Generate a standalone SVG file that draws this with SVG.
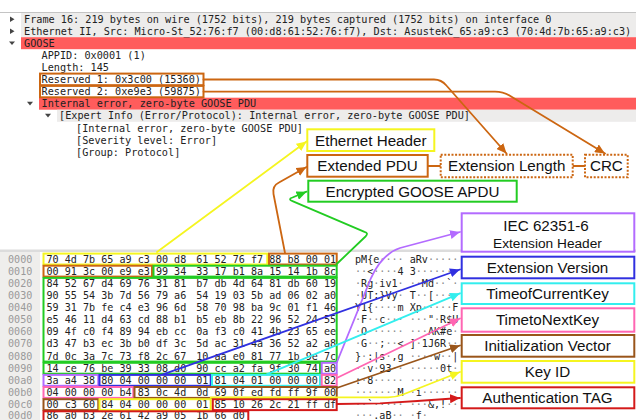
<svg xmlns="http://www.w3.org/2000/svg" width="636" height="420" viewBox="0 0 636 420">
<defs>
<style>
.mono{font-family:"DejaVu Sans Mono","Liberation Mono",monospace;font-size:10.2px;fill:#222}
.hx{font-family:"DejaVu Sans Mono","Liberation Mono",monospace;font-size:10.1px;fill:#222;white-space:pre}
.off{fill:#9a9a9a}
.d{fill:#8a8a8a}
.lbl{font-family:"Liberation Sans",Arial,sans-serif;font-size:15.2px;fill:#111;text-anchor:middle}
.box{fill:#fff;stroke-width:2}
.hb{fill:none;stroke-width:2}
.con{fill:none;stroke-width:1.8;stroke-linejoin:round;stroke-linecap:round}
.tri{fill:#444}
</style>
<marker id="aY" markerUnits="userSpaceOnUse" markerWidth="11" markerHeight="9" refX="10" refY="4.5" orient="auto"><path d="M0,0 L10,4.5 L0,9 z" fill="#f5f520"/></marker>
<marker id="aO" markerUnits="userSpaceOnUse" markerWidth="11" markerHeight="9" refX="10" refY="4.5" orient="auto"><path d="M0,0 L10,4.5 L0,9 z" fill="#cc6611"/></marker>
<marker id="aG" markerUnits="userSpaceOnUse" markerWidth="11" markerHeight="9" refX="10" refY="4.5" orient="auto"><path d="M0,0 L10,4.5 L0,9 z" fill="#22cc22"/></marker>
<marker id="aP" markerUnits="userSpaceOnUse" markerWidth="11" markerHeight="9" refX="10" refY="4.5" orient="auto"><path d="M0,0 L10,4.5 L0,9 z" fill="#b36bff"/></marker>
<marker id="aB" markerUnits="userSpaceOnUse" markerWidth="11" markerHeight="9" refX="10" refY="4.5" orient="auto"><path d="M0,0 L10,4.5 L0,9 z" fill="#3030e0"/></marker>
<marker id="aC" markerUnits="userSpaceOnUse" markerWidth="11" markerHeight="9" refX="10" refY="4.5" orient="auto"><path d="M0,0 L10,4.5 L0,9 z" fill="#33eeee"/></marker>
<marker id="aK" markerUnits="userSpaceOnUse" markerWidth="11" markerHeight="9" refX="10" refY="4.5" orient="auto"><path d="M0,0 L10,4.5 L0,9 z" fill="#ff66b3"/></marker>
<marker id="aN" markerUnits="userSpaceOnUse" markerWidth="11" markerHeight="9" refX="10" refY="4.5" orient="auto"><path d="M0,0 L10,4.5 L0,9 z" fill="#99551a"/></marker>
<marker id="aR" markerUnits="userSpaceOnUse" markerWidth="11" markerHeight="9" refX="10" refY="4.5" orient="auto"><path d="M0,0 L10,4.5 L0,9 z" fill="#d41a1a"/></marker>
</defs>
<rect width="636" height="420" fill="#fff"/>

<!-- packet details pane -->
<g id="details">
<rect x="21" y="13" width="615" height="24" fill="#edeceb"/>
<line x1="0" y1="12.5" x2="636" y2="12.5" stroke="#c4c4c4" stroke-width="1"/>
<rect x="21" y="37.2" width="615" height="12" fill="#ff5c5c"/>
<rect x="39" y="97.7" width="597" height="12" fill="#ff5c5c"/>
<rect x="57" y="109.8" width="579" height="12" fill="#edeceb"/>
<polygon class="tri" points="10,16.5 14.5,19.2 10,22"/>
<polygon class="tri" points="10,28.6 14.5,31.3 10,34.1"/>
<polygon class="tri" points="9,41.4 15,41.4 12,45"/>
<polygon class="tri" points="27,101.8 33,101.8 30,105.4"/>
<polygon class="tri" points="45,113.8 51,113.8 48,117.4"/>
<text class="mono" x="24" y="22.6">Frame 16: 219 bytes on wire (1752 bits), 219 bytes captured (1752 bits) on interface 0</text>
<text class="mono" x="24" y="34.7">Ethernet II, Src: Micro-St_52:76:f7 (00:d8:61:52:76:f7), Dst: AsustekC_65:a9:c3 (70:4d:7b:65:a9:c3)</text>
<text class="mono" x="24" y="46.8">GOOSE</text>
<text class="mono" x="41.5" y="58.9">APPID: 0x0001 (1)</text>
<text class="mono" x="41.5" y="71">Length: 145</text>
<text class="mono" x="41.5" y="83.1">Reserved 1: 0x3c00 (15360)</text>
<text class="mono" x="41.5" y="95.2">Reserved 2: 0xe9e3 (59875)</text>
<text class="mono" x="41.5" y="107.3">Internal error, zero-byte GOOSE PDU</text>
<text class="mono" x="59" y="119.4">[Expert Info (Error/Protocol): Internal error, zero-byte GOOSE PDU]</text>
<text class="mono" x="76" y="131.5">[Internal error, zero-byte GOOSE PDU]</text>
<text class="mono" x="76" y="143.6">[Severity level: Error]</text>
<text class="mono" x="76" y="155.7">[Group: Protocol]</text>
<rect class="hb" x="40" y="73.6" width="163.5" height="11.6" stroke="#cc6611"/>
<rect class="hb" x="40" y="85.9" width="163.5" height="11.4" stroke="#cc6611"/>
</g>

<!-- bytes pane -->
<g id="bytes">
<rect x="0" y="249.5" width="636" height="2.5" fill="#dcdcdc"/>
<rect x="0" y="252" width="40" height="168" fill="#efeeec"/>
<g class="hx">
<text x="8" y="262.5" class="off">0000</text>
<text x="8" y="274.6" class="off">0010</text>
<text x="8" y="286.8" class="off">0020</text>
<text x="8" y="298.9" class="off">0030</text>
<text x="8" y="311" class="off">0040</text>
<text x="8" y="323.2" class="off">0050</text>
<text x="8" y="335.3" class="off">0060</text>
<text x="8" y="347.4" class="off">0070</text>
<text x="8" y="359.5" class="off">0080</text>
<text x="8" y="371.7" class="off">0090</text>
<text x="8" y="383.8" class="off">00a0</text>
<text x="8" y="395.9" class="off">00b0</text>
<text x="8" y="408.1" class="off">00c0</text>
<text x="8" y="419.4" class="off">00d0</text>

<text x="46.5" y="262.5">70 4d 7b 65 a9 c3 00 d8</text><text x="196.3" y="262.5">61 52 76 f7 88 b8 00 01</text>
<text x="46.5" y="274.6">00 91 3c 00 e9 e3 99 34</text><text x="196.3" y="274.6">33 17 b1 8a 15 14 1b 8c</text>
<text x="46.5" y="286.8">84 52 67 d4 69 76 31 81</text><text x="196.3" y="286.8">b7 db 4d 64 81 db 60 19</text>
<text x="46.5" y="298.9">90 55 54 3b 7d 56 79 a6</text><text x="196.3" y="298.9">54 19 03 5b ad 06 02 a0</text>
<text x="46.5" y="311">59 31 7b fe c4 e3 96 6d</text><text x="196.3" y="311">58 70 98 ba 9c 01 f1 46</text>
<text x="46.5" y="323.2">e5 46 11 d4 63 cd 88 b1</text><text x="196.3" y="323.2">b5 eb 8b 22 96 52 24 55</text>
<text x="46.5" y="335.3">09 4f c0 f4 89 94 eb cc</text><text x="196.3" y="335.3">0a f3 c0 41 4b 23 65 ee</text>
<text x="46.5" y="347.4">d3 47 b3 ec 3b b0 df 3c</text><text x="196.3" y="347.4">5d ac 31 4a 36 52 a2 a8</text>
<text x="46.5" y="359.5">7d 0c 3a 7c 73 f8 2c 67</text><text x="196.3" y="359.5">10 aa e0 81 77 1b 9e 7c</text>
<text x="46.5" y="371.7">14 ce 76 be 39 33 08 d0</text><text x="196.3" y="371.7">90 cc a2 fa 9f 30 74 a0</text>
<text x="46.5" y="383.8">3a a4 38 80 04 00 00 00</text><text x="196.3" y="383.8">01 81 04 01 00 00 00 82</text>
<text x="46.5" y="395.9">04 00 00 00 b4 83 0c 4d</text><text x="196.3" y="395.9">0d 69 0f ed fd ff 9f 00</text>
<text x="46.5" y="408.1">00 c3 60 84 04 00 00 00</text><text x="196.3" y="408.1">01 85 10 26 2c 21 ff df</text>
<text x="46.5" y="419.4">86 a0 b3 2e 61 42 a9 05</text><text x="196.3" y="419.4">1b 66 d0</text>

<text x="355" y="262.5">pM{e<tspan class="d">····</tspan> aRv<tspan class="d">·····</tspan></text>
<text x="355" y="274.6"><tspan class="d">··</tspan>&lt;<tspan class="d">····</tspan>4 3<tspan class="d">·······</tspan></text>
<text x="355" y="286.8"><tspan class="d">·</tspan>Rg<tspan class="d">·</tspan>iv1<tspan class="d">·</tspan> <tspan class="d">··</tspan>Md<tspan class="d">··</tspan>`<tspan class="d">·</tspan></text>
<text x="355" y="298.9"><tspan class="d">·</tspan>UT;}Vy<tspan class="d">·</tspan> T<tspan class="d">··</tspan>[<tspan class="d">····</tspan></text>
<text x="355" y="311">Y1{<tspan class="d">····</tspan>m Xp<tspan class="d">·····</tspan>F</text>
<text x="355" y="323.2"><tspan class="d">·</tspan>F<tspan class="d">··</tspan>c<tspan class="d">···</tspan> <tspan class="d">···</tspan>"<tspan class="d">·</tspan>R$U</text>
<text x="355" y="335.3"><tspan class="d">·</tspan>O<tspan class="d">······</tspan> <tspan class="d">···</tspan>AK#e<tspan class="d">·</tspan></text>
<text x="355" y="347.4"><tspan class="d">·</tspan>G<tspan class="d">··</tspan>;<tspan class="d">··</tspan>&lt; ]<tspan class="d">·</tspan>1J6R<tspan class="d">··</tspan></text>
<text x="355" y="359.5">}<tspan class="d">·</tspan>:|s<tspan class="d">·</tspan>,g <tspan class="d">····</tspan>w<tspan class="d">··</tspan>|</text>
<text x="355" y="371.7"><tspan class="d">··</tspan>v<tspan class="d">·</tspan>93<tspan class="d">··</tspan> <tspan class="d">·····</tspan>0t<tspan class="d">·</tspan></text>
<text x="355" y="383.8">:<tspan class="d">·</tspan>8<tspan class="d">·····</tspan> <tspan class="d">········</tspan></text>
<text x="355" y="395.9"><tspan class="d">·······</tspan>M <tspan class="d">·</tspan>i<tspan class="d">······</tspan></text>
<text x="355" y="408.1"><tspan class="d">··</tspan>`<tspan class="d">·····</tspan> <tspan class="d">···</tspan>&amp;,!<tspan class="d">··</tspan></text>
<text x="355" y="419.4"><tspan class="d">···</tspan>.aB<tspan class="d">··</tspan> <tspan class="d">·</tspan>f<tspan class="d">·</tspan></text>
</g>

<!-- byte highlight boxes -->
<rect class="hb" x="43.5" y="253.6" width="223.8" height="10.9" stroke="#f5f520"/>
<rect class="hb" x="269" y="253.6" width="67.7" height="10.9" stroke="#cc6611"/>
<rect class="hb" x="43.5" y="265.7" width="108.5" height="10.9" stroke="#cc6611"/>
<rect class="hb" x="153.5" y="265.7" width="183.2" height="10.9" stroke="#22cc22"/>
<rect class="hb" x="43.5" y="277.9" width="293.2" height="83.7" stroke="#22cc22"/>
<rect class="hb" x="43.5" y="362.8" width="276.5" height="10.9" stroke="#22cc22"/>
<rect class="hb" x="321.7" y="362.8" width="15" height="10.9" stroke="#b36bff"/>
<rect class="hb" x="43.5" y="374.9" width="54.8" height="10.9" stroke="#b36bff"/>
<rect class="hb" x="99.5" y="374.9" width="111.2" height="10.9" stroke="#3030e0"/>
<rect class="hb" x="212" y="374.9" width="108" height="10.9" stroke="#33eeee"/>
<rect class="hb" x="321.7" y="374.9" width="15" height="10.9" stroke="#ff66b3"/>
<rect class="hb" x="43.5" y="387" width="89.8" height="10.9" stroke="#ff66b3"/>
<rect class="hb" x="134.5" y="387" width="202.2" height="10.9" stroke="#99551a"/>
<rect class="hb" x="43.5" y="399.2" width="54.8" height="10.9" stroke="#99551a"/>
<rect class="hb" x="99.5" y="399.2" width="111.2" height="10.9" stroke="#f5f520"/>
<rect class="hb" x="212.8" y="399.2" width="123.9" height="10.9" stroke="#d41a1a"/>
<rect class="hb" x="43.5" y="411.3" width="204.8" height="15" stroke="#d41a1a"/>
</g>

<!-- connectors -->
<g id="connectors" class="con">
<path d="M157,252 L306.5,141.5" stroke="#f5f520" marker-end="url(#aY)"/>
<path d="M285,253 L273.5,194 Q272,186 279,182.5 L306.5,167" stroke="#cc6611" marker-end="url(#aO)"/>
<path d="M203.5,79.5 H434 Q441.4,79.5 446.4,85.5 L506.5,153.5" stroke="#cc6611" marker-end="url(#aO)"/>
<path d="M203.5,91.6 H495 Q503,91.6 509.9,95.7 L605,153.5" stroke="#cc6611" marker-end="url(#aO)"/>
<path d="M427.7,166 H440.7 M572.7,166 H585" stroke="#cc6611"/>
<path d="M336.7,264 L365.5,236.5 Q369,233 364.5,231.8 L292.5,201.2 Q287.5,199 292.5,197.5 L306.5,191.7" stroke="#22cc22" marker-end="url(#aG)"/>
<path d="M337,362 L371,278 Q382,254 400,248 L460,232" stroke="#b36bff" marker-end="url(#aP)"/>
<path d="M163,374.3 L460,269.5" stroke="#3030e0" marker-end="url(#aB)"/>
<path d="M266.7,374.3 L460,293.3" stroke="#33eeee" marker-end="url(#aC)"/>
<path d="M336.7,378 L460,318.5" stroke="#ff66b3" marker-end="url(#aK)"/>
<path d="M336.7,388 L460,345.5" stroke="#99551a" marker-end="url(#aN)"/>
<path d="M210.7,397.3 L388,397.3 Q396,397.3 403,394.5 L460,372" stroke="#f5f520" marker-end="url(#aY)"/>
<path d="M336.7,404 L380,403.3 Q420,401 460,398" stroke="#d41a1a" marker-end="url(#aR)"/>
</g>

<!-- label nodes -->
<g id="n-ethernet-header"><rect class="box" x="307.3" y="129.3" width="127" height="21.7" stroke="#f5f520"/><text class="lbl" x="370.8" y="145.6">Ethernet Header</text></g>
<g id="n-extended-pdu"><rect class="box" x="307.3" y="155" width="120.4" height="21.7" stroke="#cc6611"/><text class="lbl" x="367.5" y="171.3">Extended PDU</text></g>
<g id="n-extension-length"><rect class="box" x="440.7" y="154.8" width="132" height="22.5" stroke="#cc6611" stroke-dasharray="2 1.6"/><text class="lbl" x="506.7" y="171.4">Extension Length</text></g>
<g id="n-crc"><rect class="box" x="585" y="154.8" width="42.7" height="22.5" stroke="#cc6611" stroke-dasharray="2 1.6"/><text class="lbl" x="606.4" y="171.4">CRC</text></g>
<g id="n-encrypted-apdu"><rect class="box" x="308.3" y="180.7" width="208.4" height="21" stroke="#22cc22"/><text class="lbl" x="412.5" y="196.6">Encrypted GOOSE APDU</text></g>
<g id="n-iec-header"><rect class="box" x="461.7" y="213.3" width="172.6" height="38.4" stroke="#b36bff"/><text class="lbl" x="546" y="230.6">IEC 62351-6</text><text class="lbl" x="547.5" y="247.5" style="font-size:13.7px">Extension Header</text></g>
<g id="n-ext-version"><rect class="box" x="461.7" y="256.7" width="172.6" height="21.6" stroke="#3030e0"/><text class="lbl" x="547.5" y="272.9">Extension Version</text></g>
<g id="n-current-key"><rect class="box" x="461.7" y="283.3" width="172.6" height="20.7" stroke="#33eeee"/><text class="lbl" x="547.5" y="299.1">TimeofCurrentKey</text></g>
<g id="n-next-key"><rect class="box" x="461.7" y="308.3" width="172.6" height="23.4" stroke="#ff66b3"/><text class="lbl" x="547.5" y="325.4">TimetoNextKey</text></g>
<g id="n-iv"><rect class="box" x="461.7" y="335" width="172.6" height="21.7" stroke="#99551a"/><text class="lbl" x="547.5" y="351.2">Initialization Vector</text></g>
<g id="n-key-id"><rect class="box" x="461.7" y="361" width="172.6" height="21.7" stroke="#f5f520"/><text class="lbl" x="547.5" y="377.3">Key ID</text></g>
<g id="n-auth-tag"><rect class="box" x="461.7" y="387.3" width="172.6" height="21" stroke="#d41a1a"/><text class="lbl" x="547.5" y="403.2">Authentication TAG</text></g>
</svg>
